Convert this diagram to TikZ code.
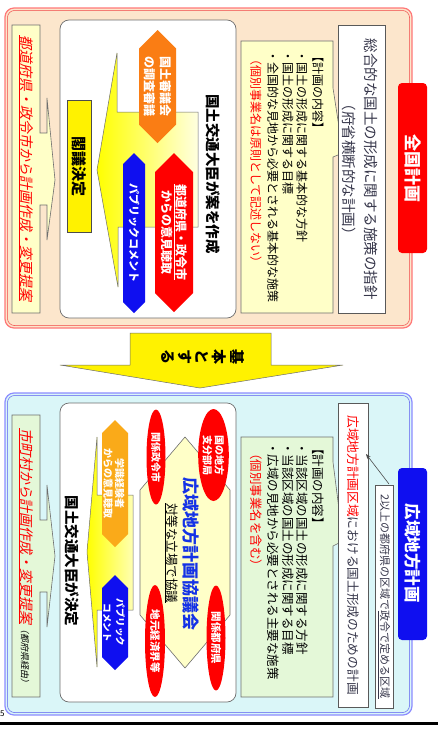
\documentclass[tikz,border=0pt]{standalone}
\usepackage{fontspec}
\setmainfont{Noto Sans CJK JP}
\newfontfamily\jpit{Noto Sans CJK JP}[FakeSlant=0.2]
\usetikzlibrary{arrows.meta,shapes.geometric}
\definecolor{peach}{RGB}{252,230,204}
\definecolor{peachline}{RGB}{255,120,120}
\definecolor{peachline2}{RGB}{240,70,70}
\definecolor{cyanbg}{RGB}{218,246,248}
\definecolor{cyanline}{RGB}{140,140,255}
\definecolor{cyanline2}{RGB}{90,90,240}
\definecolor{paleyel}{RGB}{255,255,200}
\definecolor{palegrn}{RGB}{228,248,216}
\definecolor{orng}{RGB}{250,125,20}
\definecolor{gold}{RGB}{250,170,25}
\definecolor{hexblue}{RGB}{15,15,240}
\definecolor{kblue}{RGB}{20,50,230}
\definecolor{bordgray}{RGB}{110,110,110}
\definecolor{txtgray}{RGB}{55,55,75}
\newcommand\vhex[5]{%
  \pgfmathsetmacro\myhw{(#3-#2)/2}%
  \pgfmathsetmacro\mymx{(#3+#2)/2}%
  \fill[#1] (\mymx,#4) -- ({#3},{#4+\myhw}) -- ({#3},{#5-\myhw}) -- (\mymx,#5) -- ({#2},{#5-\myhw}) -- ({#2},{#4+\myhw}) -- cycle;}
\begin{document}
\begin{tikzpicture}[x=1pt,y=-1pt,
  vt/.style={rotate=-90,anchor=west,inner sep=0pt},
  vc/.style={rotate=-90,anchor=center,inner sep=0pt},
  vb/.style={rotate=-90,anchor=base west,inner sep=0pt},
  boxline/.style={draw=bordgray,line width=0.6pt},
  bodytxt/.style={font={\fontsize{12}{14}\selectfont}},
  bodytxtb/.style={font={\fontsize{12.5}{14}\selectfont}},
  redell/.style={vc,ellipse,fill=red,text=white,align=center,inner sep=0pt}
]
\useasboundingbox (0,0) rectangle (438,731);
\fill[white] (0,0) rectangle (438,731);

% ================= TOP PANEL =================
\draw[rounded corners=9, fill=peach, draw=peachline, line width=1.2pt] (5,8) rectangle (412,328);
\draw[rounded corners=7, draw=peachline2, line width=0.5pt] (7.5,10.5) rectangle (409.5,325.5);
\fill[red, rounded corners=4] (398,83) rectangle (427,253);
\node[vc, text=white, font={\bfseries\fontsize{17}{20}\selectfont}] (tab1) at (413,168) {全国計画};

% left strip
\draw[boxline, fill=paleyel] (12,25) -- (40,25) -- (40,133) -- (47,133) -- (47,98) -- (55,180) -- (47,240) -- (47,205) -- (40,205) -- (40,313) -- (12,313) -- cycle;
\node[vb, text=red, font={\jpit\fontsize{14}{16}\selectfont}] (strip1) at (21.7,35) {\underline{都道府県・政令市から計画作成・変更提案}};

% inner white box
\draw[rounded corners=9, fill=white, draw=bordgray, line width=0.7pt] (60,20) rectangle (236,318);

% yellow callout
\path[draw=bordgray, line width=0.5pt, left color=yellow, right color=yellow!12]
  (117,53) -- (117,112) -- (198,112) -- (198,227) -- (118,227) -- (118,287) -- (97,170) -- cycle;

% kakugi box
\draw[fill=yellow, draw=black!70, line width=0.6pt] (67,100) rectangle (91,232);
\node[vc, font={\bfseries\fontsize{15}{18}\selectfont}] (kakugi) at (79,166) {閣議決定};

% hexagons
\vhex{orng}{139}{176}{30}{143}
\node[vc, text=white, align=center, font={\bfseries\fontsize{12}{16}\selectfont}] (shingikai) at (157.5,86.5) {国土審議会\\の調査審議};
\vhex{hexblue}{123}{145}{153}{313}
\node[vc, text=white, font={\bfseries\fontsize{11}{13}\selectfont}] (pubcom1) at (134,233) {パブリックコメント};
\vhex{red}{155}{193}{153}{312}
\node[vc, text=white, align=center, font={\bfseries\fontsize{12}{14.5}\selectfont}] (iken1) at (174,232) {\underline{都道府県・政令市}\\からの意見聴取};

\node[vc, font={\bfseries\fontsize{14.5}{17}\selectfont}] (daijin1) at (213,174) {国土交通大臣が案を作成};

% contents box (yellow)
\draw[boxline, fill=paleyel] (241,41) -- (333,41) -- (333,88) -- (343,153) -- (333,157) -- (333,313) -- (241,313) -- cycle;
\node[vb, bodytxt] (t1a) at (313.4,50) {【計画の内容】};
\node[vb, bodytxt] (t1b) at (297.4,50) {・国土の形成に関する基本的な方針};
\node[vb, bodytxt] (t1c) at (283.4,50) {・国土の形成に関する目標};
\node[vb, bodytxt] (t1d) at (268.4,50) {・全国的な見地から必要とされる基本的な施策};
\node[vb, bodytxt, text=red] (t1e) at (251.4,53) {（個別事業名は原則として記述しない）};

% definition box
\draw[fill=white, draw=black!65, line width=0.7pt] (338,25) rectangle (385,313);
\node[vc, align=center, text=txtgray, font={\fontsize{14.5}{22}\selectfont}] (sogo) at (360,169) {総合的な国土の形成に関する施策の指針\\（府省横断的な計画）};

% ================= MIDDLE ARROW =================
\draw[fill=yellow, draw=bordgray, line width=0.5pt] (130,333) -- (271,333) -- (271,365) -- (343,365) -- (200,388) -- (60,365) -- (130,365) -- cycle;
\node[vc, font={\bfseries\fontsize{15}{16.6}\selectfont}] (kihon) at (201,357) {\begin{tabular}{@{}c@{}}基\\本\\と\\す\\る\end{tabular}};

% ================= BOTTOM PANEL =================
\draw[rounded corners=9, fill=cyanbg, draw=cyanline, line width=1.2pt] (5,393) rectangle (412,715);
\draw[rounded corners=7, draw=cyanline2, line width=0.5pt] (7.5,395.5) rectangle (409.5,712.5);
\fill[hexblue, rounded corners=4] (398,468) rectangle (427,640);
\node[vc, text=white, font={\bfseries\fontsize{16.5}{20}\selectfont}] (tab2) at (413,553) {広域地方計画};

% left strip
\draw[boxline, fill=palegrn] (12,415) -- (40,415) -- (40,520) -- (47,520) -- (47,485) -- (55,556) -- (47,627) -- (47,592) -- (40,592) -- (40,697) -- (12,697) -- cycle;
\node[vb, text=red, font={\jpit\fontsize{14}{16}\selectfont}] (strip2) at (21.7,428) {\underline{市町村から計画作成・変更提案}{\color{black}\fontsize{9}{10}\selectfont（都府県経由）}};

% inner white box
\draw[rounded corners=9, fill=white, draw=bordgray, line width=0.7pt] (60,403) rectangle (236,702);

% yellow callout
\path[draw=bordgray, line width=0.5pt, left color=yellow, right color=yellow!30]
  (97,437) -- (97,495) -- (133,495) -- (133,610) -- (97,610) -- (97,667) -- (87,552) -- cycle;
\node[vc, font={\bfseries\fontsize{14.5}{17}\selectfont}] (daijin2) at (72,561) {国土交通大臣が決定};

\vhex{gold}{102}{128}{420}{547}
\node[vc, text=white, align=center, font={\bfseries\fontsize{10}{11.5}\selectfont}] (iken2) at (114,483.5) {学識経験者\\からの意見聴取};
\vhex{hexblue}{102}{128}{575}{670}
\node[vc, text=white, align=center, font={\bfseries\fontsize{9.5}{13}\selectfont}] (pubcom2) at (114,622.5) {パブリック\\コメント};

% council shape
\draw[fill=paleyel, draw=bordgray, line width=0.6pt] (185,437) -- (230,490) -- (230,615) -- (185,668) -- (140,615) -- (140,490) -- cycle;
\node[vc, text=kblue, font={\bfseries\fontsize{17}{20}\selectfont}] (kyogikai) at (191,554) {広域地方計画協議会};
\node[vc, font={\fontsize{12.5}{15}\selectfont}] (taito) at (171,553) {\underline{対等な立場で協議}};

\node[redell, minimum width=95pt, minimum height=19pt, font={\bfseries\fontsize{10}{12}\selectfont}] (seirei) at (156,457) {関係政令市};
\node[redell, minimum width=92pt, minimum height=27pt, font={\bfseries\fontsize{10}{12}\selectfont}] (shibu) at (213.5,455) {国の地方\\支分部局};
\node[redell, minimum width=112pt, minimum height=20pt, font={\bfseries\fontsize{10.5}{12}\selectfont}] (keizai) at (155,641) {地元経済界等};
\node[redell, minimum width=105pt, minimum height=19pt, font={\bfseries\fontsize{10.5}{12}\selectfont}] (tofuken) at (216,638) {関係都府県};

% contents box (green)
\draw[boxline, fill=palegrn] (241,437) -- (333,437) -- (333,462) -- (343,541) -- (333,546) -- (333,697) -- (241,697) -- cycle;
\node[vb, bodytxtb] (t2a) at (313.2,442) {【計画の内容】};
\node[vb, bodytxtb] (t2b) at (297.2,442) {・当該区域の国土の形成に関する方針};
\node[vb, bodytxtb] (t2c) at (283.2,442) {・当該区域の国土の形成に関する目標};
\node[vb, bodytxtb] (t2d) at (268.2,442) {・広域の見地から必要とされる主要な施策};
\node[vb, bodytxtb, text=red] (t2e) at (251.2,447) {（個別事業名を含む）};

% definition box
\draw[fill=white, draw=black!65, line width=0.7pt] (338,403) rectangle (368,707);
\node[vc, text=txtgray, font={\fontsize{12.7}{15}\selectfont}] (plan2) at (353,555) {{\color{red}広域地方計画区域}における国土形成のための計画};

% small region box
\draw[fill=white, draw=black!65, line width=0.6pt] (375,485) rectangle (393,708);
\node[vc, text=txtgray, font={\fontsize{11}{13}\selectfont}] (region) at (384,596.5) {2以上の都府県の区域で\underline{政令で定める区域}};
\coordinate (sbtop) at (389,484);
\coordinate (planedge) at (366,454);
\draw[-{Stealth[length=5pt,width=4pt]}, draw=black!70, line width=0.6pt] (sbtop) -- (planedge);

% page footer
\draw[line width=2.5pt] (0,723.5) -- (438,723.5);
\node[anchor=west, inner sep=0pt, font={\fontsize{8}{9}\selectfont}] (pnum) at (0,714) {5};
\end{tikzpicture}
\end{document}
